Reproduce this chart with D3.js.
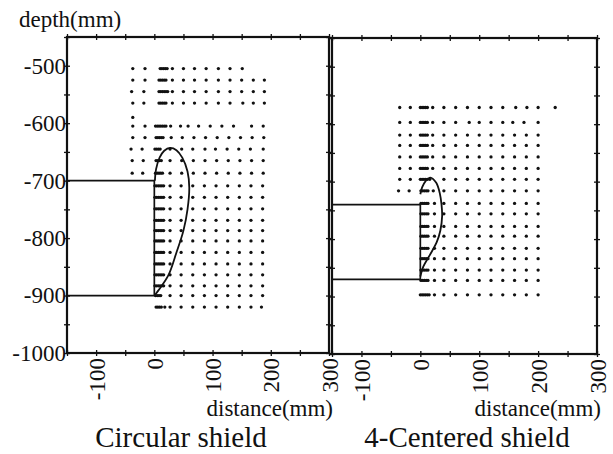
<!DOCTYPE html>
<html>
<head>
<meta charset="utf-8">
<script src="https://cdn.jsdelivr.net/npm/d3@7"></script>
<style>
  html, body { margin: 0; padding: 0; background: #fff; }
  svg text { font-family: "Liberation Serif", "Times New Roman", serif; fill: #111; }
</style>
</head>
<body>
<svg id="chart"></svg>
<script>
// values (mm)
const xTicks = [-100, 0, 100, 200, 300];
const yTicks = [-500, -600, -700, -800, -900, -1000];
const panelTitles = ['Circular shield', '4-Centered shield'];

// shield face sits at x = 0, body runs back to the left edge
const shieldTop = [-700, -740];
const shieldBottom = [-900, -870];

// boundary line in front of each shield
const circularCurveX = [1, 7, 24, 38, 50, 57, 60, 57, 48, 38, 27, 17, 9, 3, 1];
const circularCurveDepth = [-899, -891, -865, -825, -787, -750, -712, -684, -660, -647, -643, -648, -660, -680, -700];
const centeredCurveX = [0, 5, 16, 28, 34, 37, 36, 33, 27, 17, 9, 3, 0];
const centeredCurveDepth = [-865, -848, -828, -805, -785, -760, -740, -720, -702, -693, -699, -710, -722];

// measurement points, one list of x positions per row
const lowerLeft = [1, 4, 7, 10, 13, 16, 27, 46, 66, 86, 106, 126, 146, 166, 186];
const circularDepth = [-505, -525, -545, -565, -590, -605, -625, -645, -665, -687,
  -709, -729, -749, -769, -787, -805, -825, -845, -864, -883, -900, -920];
const circularX = [
  [-37, -16, 10, 13, 16, 19, 22, 31, 50, 69, 89, 110, 130, 151],
  [-37, -16, 8, 11, 14, 17, 20, 31, 50, 69, 89, 110, 130, 150, 170, 189],
  [-39, -18, 8, 11, 14, 17, 20, 23, 31, 50, 69, 89, 110, 130, 150, 170, 189],
  [-37, -18, 8, 11, 14, 17, 20, 31, 50, 69, 89, 110, 130, 152, 170, 189],
  [-37],
  [-37, -16, 2, 5, 8, 11, 14, 17, 20, 28, 45, 58, 76, 96, 116, 136, 167, 187],
  [-37, -16, 3, 6, 9, 12, 15, 29, 48, 68, 88, 108, 128, 148, 168, 188],
  [-40, -21, 1, 4, 7, 10, 27, 47, 66, 87, 105, 125, 145, 165, 187],
  [-38, -19, 3, 6, 9, 12, 27, 47, 67, 87, 107, 127, 147, 167, 187],
  [-38, -20, 2, 5, 8, 11, 14, 27, 47, 67, 87, 107, 127, 147, 167, 187],
  lowerLeft, lowerLeft, lowerLeft, lowerLeft, lowerLeft,
  lowerLeft, lowerLeft, lowerLeft, lowerLeft, lowerLeft,
  [2, 5, 8, 11, 27, 46, 66, 86, 106, 126, 146, 166, 186],
  [3, 6, 9, 12, 18, 27, 46, 66, 86, 106, 126, 146, 166, 184]
];

const upperRight = [-35, -17, 0, 3, 6, 9, 12, 21, 40, 60, 80, 100, 120, 140, 160, 180, 200];
const lowerRight = [1, 4, 7, 10, 13, 24, 40, 60, 80, 100, 120, 140, 160, 180, 200];
const centeredDepth = [-571, -597, -619, -637, -657, -677, -696, -716,
  -738, -756, -778, -795, -816, -834, -854, -872, -897];
const centeredX = [
  [-35, -17, 0, 3, 6, 9, 12, 21, 40, 60, 80, 100, 120, 140, 162, 181, 200, 229],
  [-35, -17, 0, 3, 6, 9, 12, 21, 40, 60, 83, 100, 120, 140, 157, 176, 200],
  upperRight, upperRight, upperRight, upperRight,
  [-35, -17, 0, 3, 6, 9, 12, 16, 40, 60, 80, 100, 120, 140, 160, 180, 200],
  [-37, -19, 1, 4, 7, 10, 13, 22, 40, 60, 80, 100, 120, 140, 160, 180, 200],
  lowerRight, lowerRight, lowerRight, lowerRight, lowerRight, lowerRight, lowerRight, lowerRight,
  [0, 3, 6, 9, 12, 15, 24, 40, 60, 80, 100, 120, 140, 160, 180, 200]
];

const app = (function () {
  'use strict';

  const width = 613;
  const height = 454;

  // plot frames in the picture (the scan is slightly tilted)
  const frames = [
    { left: 67, right: 329, top: 37, bottom: 353 },
    { left: 332, right: 597, top: 38, bottom: 354 }
  ];

  const panelData = [
    { depth: circularDepth, xs: circularX, curveX: circularCurveX, curveDepth: circularCurveDepth },
    { depth: centeredDepth, xs: centeredX, curveX: centeredCurveX, curveDepth: centeredCurveDepth }
  ];

  const plain = function (v) { return String(v); };

  function init () {
    const svg = d3.select('#chart')
      .attr('width', width)
      .attr('height', height);

    svg.append('rect')
      .attr('width', width)
      .attr('height', height)
      .attr('fill', '#fff');

    frames.forEach(function (f, i) {
      drawPanel(svg, f, i);
    });

    svg.append('text')
      .attr('x', 19)
      .attr('y', 27)
      .attr('font-size', 23)
      .text('depth(mm)');
  }

  function drawPanel (svg, f, i) {
    const x = d3.scaleLinear().domain([-150, 300]).range([f.left, f.right]);
    const y = d3.scaleLinear().domain([-1000, -450]).range([f.bottom, f.top]);
    const d = panelData[i];
    const g = svg.append('g').attr('class', 'panel');

    // measurement points
    const pts = [];
    d.depth.forEach(function (dep, r) {
      d.xs[r].forEach(function (v) { pts.push([v, dep]); });
    });
    g.append('g')
      .selectAll('circle')
      .data(pts)
      .enter().append('circle')
      .attr('cx', function (p) { return x(p[0]); })
      .attr('cy', function (p) { return y(p[1]); })
      .attr('r', 1.65)
      .attr('fill', '#111');

    // shield outline
    const top = shieldTop[i];
    const bot = shieldBottom[i];
    g.append('path')
      .attr('d', 'M' + x(-150) + ',' + y(top) + 'L' + x(0) + ',' + y(top) +
        'L' + x(0) + ',' + y(bot) + 'L' + x(-150) + ',' + y(bot))
      .attr('fill', 'none')
      .attr('stroke', '#111')
      .attr('stroke-width', 1.7);

    // boundary curve
    const line = d3.line()
      .x(function (k) { return x(d.curveX[k]); })
      .y(function (k) { return y(d.curveDepth[k]); })
      .curve(d3.curveCatmullRom);
    g.append('path')
      .attr('d', line(d3.range(d.curveX.length)))
      .attr('fill', 'none')
      .attr('stroke', '#111')
      .attr('stroke-width', 1.8);

    // frame
    g.append('rect')
      .attr('x', f.left)
      .attr('y', f.top)
      .attr('width', f.right - f.left)
      .attr('height', f.bottom - f.top)
      .attr('fill', 'none')
      .attr('stroke', '#111')
      .attr('stroke-width', 2.2);

    // small cross ticks every 50 mm on all sides
    const xMinor = d3.range(-150, 301, 50);
    const yMinor = d3.range(-1000, -449, 50);
    const tickAxes = [
      { axis: d3.axisBottom(x).tickValues(xMinor), t: 'translate(0,' + (f.bottom - 3) + ')' },
      { axis: d3.axisBottom(x).tickValues(xMinor), t: 'translate(0,' + (f.top - 3) + ')' },
      { axis: d3.axisRight(y).tickValues(yMinor), t: 'translate(' + (f.left - 3) + ',0)' },
      { axis: d3.axisRight(y).tickValues(yMinor), t: 'translate(' + (f.right - 3) + ',0)' }
    ];
    tickAxes.forEach(function (a) {
      const ag = g.append('g')
        .attr('transform', a.t)
        .call(a.axis.tickSize(6).tickSizeOuter(0).tickFormat(''));
      ag.select('.domain').remove();
      ag.selectAll('line').attr('stroke', '#111').attr('stroke-width', 1.3);
    });

    // x tick labels, rotated
    const xa = g.append('g')
      .attr('transform', 'translate(0,' + f.bottom + ')')
      .call(d3.axisBottom(x).tickValues(xTicks).tickSize(0).tickPadding(0).tickFormat(plain));
    xa.select('.domain').remove();
    xa.selectAll('text')
      .attr('font-size', 23)
      .attr('font-family', '"Liberation Serif", serif')
      .attr('fill', '#111')
      .attr('text-anchor', 'end')
      .attr('dy', '0.35em')
      .attr('transform', 'translate(0,5) rotate(-90)')
      .attr('y', 0)
      .attr('x', 0);

    if (i === 0) {
      const ya = g.append('g')
        .attr('transform', 'translate(' + f.left + ',0)')
        .call(d3.axisLeft(y).tickValues(yTicks).tickSize(0).tickPadding(1).tickFormat(plain));
      ya.select('.domain').remove();
      ya.selectAll('text')
        .attr('font-size', 23)
        .attr('fill', '#111')
        .attr('font-family', '"Liberation Serif", serif');
    }

    g.append('text')
      .attr('x', f.right + 4)
      .attr('y', 416)
      .attr('text-anchor', 'end')
      .attr('font-size', 23)
      .text('distance(mm)');

    g.append('text')
      .attr('x', i === 0 ? 181 : 467)
      .attr('y', 447)
      .attr('text-anchor', 'middle')
      .attr('font-size', 29)
      .text(panelTitles[i]);
  }

  return {
    init: init
  };
}());

window.addEventListener('load', app.init);
</script>
</body>
</html>
